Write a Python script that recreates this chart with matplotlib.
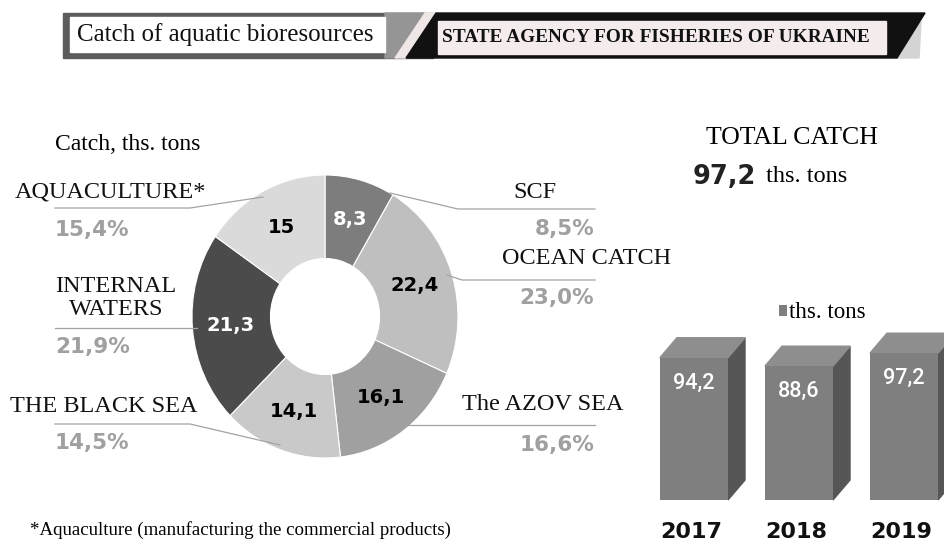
import numpy as np
import matplotlib.pyplot as plt
from matplotlib.patches import Rectangle, Polygon

# catch by source, ths. tons (clockwise from the top)
sources = ['SCF', 'OCEAN CATCH', 'The AZOV SEA', 'THE BLACK SEA', 'INTERNAL\nWATERS', 'AQUACULTURE*']
catch = [8.3, 22.4, 16.1, 14.1, 21.3, 15]
slice_colors = ['#7d7d7d', '#bfbfbf', '#a0a0a0', '#c9c9c9', '#4b4b4b', '#dadada']
inner_text = ['white', 'black', 'black', 'black', 'white', 'black']

# total catch by year
years = ['2017', '2018', '2019']
totals = [94.2, 88.6, 97.2]

total = sum(catch)
shares = [f"{c / total * 100:.1f}".replace('.', ',') + '%' for c in catch]

SERIF = 'Liberation Serif'
BOLD = 'DejaVu Sans'
PCT_GRAY = '#a0a0a0'
LINE_GRAY = '#a3a3a3'

fig = plt.figure(figsize=(9.44, 5.48), dpi=100)
W, H = 944, 548

# overlay in pixel coords for header, labels and leader lines
ov = fig.add_axes([0, 0, 1, 1])
ov.set_xlim(0, W)
ov.set_ylim(H, 0)
ov.axis('off')
ov.patch.set_alpha(0)
ov.set_zorder(3)

# ---- header ----
ov.add_patch(Rectangle((63, 13), 370, 45, color='#5c5c5c'))
ov.add_patch(Polygon([(385, 13), (425, 13), (395, 58), (385, 58)], color='#959595'))
ov.add_patch(Polygon([(425, 13), (436, 13), (406, 58), (395, 58)], color='#efe6e6'))
ov.add_patch(Polygon([(897, 22), (921, 22), (919, 58), (895, 58)], color='#d4d4d4'))
ov.add_patch(Polygon([(436, 13), (925, 13), (897, 58), (406, 58)], color='#111111'))
ov.add_patch(Rectangle((70, 17), 315, 35, color='white'))
ov.add_patch(Rectangle((438, 21), 448, 33, color='#f4ecec'))
ov.text(77, 35, 'Catch of aquatic bioresources', family=SERIF, fontsize=18,
        va='center', ha='left', color='#111111')
ov.text(442, 37, 'STATE AGENCY FOR FISHERIES OF UKRAINE', family=SERIF, fontsize=13.9,
        fontweight='bold', va='center', ha='left', color='#111111')

# ---- donut ----
pie_ax = fig.add_axes([192 / W, (H - 458) / H, 266 / W, 283 / H])
wedges, _, autotexts = pie_ax.pie(
    catch, colors=slice_colors, startangle=90, counterclock=False, radius=1,
    wedgeprops=dict(width=0.59, edgecolor='white', linewidth=0.8),
    autopct=lambda p: f"{p * total / 100:.3g}".replace('.', ','), pctdistance=0.71)
for t, c in zip(autotexts, inner_text):
    t.set_color(c)
    t.set_fontfamily(BOLD)
    t.set_fontweight('bold')
    t.set_fontsize(14)
pie_ax.set_aspect('auto')
pie_ax.set_xlim(-1, 1)
pie_ax.set_ylim(-1, 1)

ov.text(55, 145, 'Catch, ths. tons', family=SERIF, fontsize=17, va='center', ha='left')

# label layout: name position, name alignment, leader line, percent position, percent alignment
layout = [
    ((513, 193), 'left', [(390, 193), (458, 209), (595, 209)], (594, 229), 'right'),
    ((502, 259), 'left', [(447, 275), (462, 280), (595, 280)], (594, 298), 'right'),
    ((462, 405), 'left', [(403, 425), (595, 425)], (594, 445), 'right'),
    ((10, 407), 'left', [(280, 445), (190, 424), (55, 424)], (55, 443), 'left'),
    ((116, 298), 'center', [(197, 328), (55, 328)], (55, 347), 'left'),
    ((15, 192), 'left', [(263, 197), (190, 208), (55, 208)], (55, 230), 'left'),
]
for name, share, (npos, nha, pts, ppos, pha) in zip(sources, shares, layout):
    ov.text(npos[0], npos[1], name, family=SERIF, fontsize=17.5, ha=nha, va='center',
            color='#111111', linespacing=1.08)
    xs, ys = zip(*pts)
    ov.plot(xs, ys, color=LINE_GRAY, lw=0.9)
    ov.text(ppos[0], ppos[1], share, family=BOLD, fontweight='bold', fontsize=15.5,
            ha=pha, va='center', color=PCT_GRAY)

# ---- total ----
ov.text(706, 138, 'TOTAL CATCH', family=SERIF, fontsize=18.6, ha='left', va='center')
ov.text(693, 177, f"{totals[-1]:.1f}".replace('.', ','), family=BOLD, fontweight='bold',
        fontsize=18.5, ha='left', va='center', color='#222222')
ov.text(766, 177, 'ths. tons', family=SERIF, fontsize=17.5, ha='left', va='center')

ov.text(30, 530, '*Aquaculture (manufacturing the commercial products)', family=SERIF,
        fontsize=13.6, ha='left', va='center')

# ---- 3d bars ----
bx = fig.add_axes([640 / W, 0, 304 / W, 258 / H])
bx.set_xlim(-0.514, 2.381)
bx.set_ylim(-31.8, 139)
bx.axis('off')
bw = 0.648
dx, dy = 0.162, 13.2
xpos = np.arange(len(years))
bars = bx.bar(xpos, totals, width=bw, color='#7f7f7f', zorder=3, label='ths. tons')
for x, v in zip(xpos, totals):
    r, l = x + bw / 2, x - bw / 2
    bx.add_patch(Polygon([(r, 0), (r + dx, dy), (r + dx, v + dy), (r, v)],
                         color='#565656', zorder=2))
    bx.add_patch(Polygon([(l, v), (l + dx, v + dy), (r + dx, v + dy), (r, v)],
                         color='#8e8e8e', zorder=2))
    bx.text(x, v - 17, f"{v:.1f}".replace('.', ','), family='Roboto', fontsize=15.5,
            fontweight='medium', color='white', ha='center', va='center', zorder=4)
    bx.text(x - 0.03, -21.5, years[int(x)], family=BOLD, fontweight='bold', fontsize=16,
            ha='center', va='center', color='#111111')

fig.legend(handles=[bars], labels=['ths. tons'], loc='center',
           bbox_to_anchor=(822 / W, 1 - 313 / H), frameon=False,
           handlelength=0.35, handleheight=0.35, handletextpad=0.1,
           prop=dict(family=SERIF, size=16.5))

fig.savefig('out.png', dpi=100, facecolor='white')
